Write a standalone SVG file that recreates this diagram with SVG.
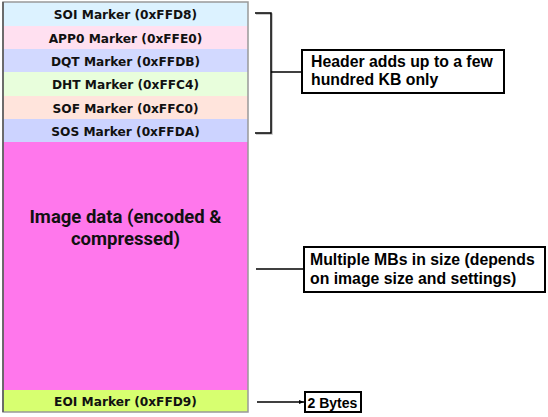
<svg xmlns="http://www.w3.org/2000/svg" width="548" height="417" viewBox="0 0 548 417">
<style>
.m{font-family:"DejaVu Sans",Verdana,sans-serif;font-weight:bold;font-size:12.2px;fill:#111;text-anchor:middle}
.c{font-family:"Liberation Sans",Arial,sans-serif;font-weight:bold;font-size:15.8px;fill:#000}
.big{font-family:Roboto,"DejaVu Sans",sans-serif;font-weight:bold;font-size:18.5px;fill:#111;text-anchor:middle}
.box{fill:#fff;stroke:#000;stroke-width:2}
.ln{fill:none;stroke:#000;stroke-width:1.5}
.sh{fill:none;stroke:#bbb;stroke-width:1.5}
</style>
<defs>
<marker id="ah" markerWidth="6" markerHeight="6" refX="5" refY="3" orient="auto" markerUnits="userSpaceOnUse">
<path d="M0,1 L5,3 L0,5 z" fill="#000"/>
</marker>
</defs>
<rect width="548" height="417" fill="#fff"/>
<g id="soi"><rect x="3" y="2" width="245" height="24" fill="#dcf2ff"/><text class="m" x="125.5" y="19">SOI Marker (0xFFD8)</text></g>
<g id="app0"><rect x="3" y="26" width="245" height="23" fill="#ffe0f0"/><text class="m" x="125.5" y="42.5">APP0 Marker (0xFFE0)</text></g>
<g id="dqt"><rect x="3" y="49" width="245" height="23" fill="#d2d9ff"/><text class="m" x="125.5" y="65.5">DQT Marker (0xFFDB)</text></g>
<g id="dht"><rect x="3" y="72" width="245" height="24" fill="#e8fedc"/><text class="m" x="125.5" y="89">DHT Marker (0xFFC4)</text></g>
<g id="sof"><rect x="3" y="96" width="245" height="23" fill="#ffe4dc"/><text class="m" x="125.5" y="112.5">SOF Marker (0xFFC0)</text></g>
<g id="sos"><rect x="3" y="119" width="245" height="23" fill="#ccd3ff"/><text class="m" x="125.5" y="136">SOS Marker (0xFFDA)</text></g>
<g id="image"><rect x="3" y="142" width="245" height="248" fill="#ff77ec"/><text class="big" x="125.5" y="223">Image data (encoded &amp;</text><text class="big" x="125.5" y="245">compressed)</text></g>
<g id="eoi"><rect x="3" y="390" width="245" height="22" fill="#d7ff70"/><text class="m" x="125.5" y="406">EOI Marker (0xFFD9)</text></g>
<rect x="3" y="2" width="245" height="410" fill="none" stroke="#999" stroke-width="1.5"/>
<line x1="3" y1="2" x2="3" y2="412" stroke="#555" stroke-width="1.5"/>
<g id="connectors">
<path class="sh" d="M256,14 H272 V134 H256"/>
<path class="ln" d="M255,13 H271 V133 H255"/>
<line class="ln" x1="271" y1="72" x2="302" y2="72"/>
<line class="ln" x1="256" y1="269" x2="304" y2="269"/>
<line class="ln" x1="257" y1="402" x2="304" y2="402" marker-end="url(#ah)"/>
</g>
<g id="header-note"><rect class="box" x="302" y="50" width="202" height="43"/><text class="c" x="311" y="67">Header adds up to a few</text><text class="c" x="311" y="85">hundred KB only</text></g>
<g id="data-note"><rect class="box" x="304" y="247" width="241" height="45"/><text class="c" x="310" y="265">Multiple MBs in size (depends</text><text class="c" x="310" y="284">on image size and settings)</text></g>
<g id="eoi-note"><rect class="box" x="305" y="392" width="56" height="20"/><text class="c" x="307.5" y="407.5" style="font-size:14px">2 Bytes</text></g>
</svg>
